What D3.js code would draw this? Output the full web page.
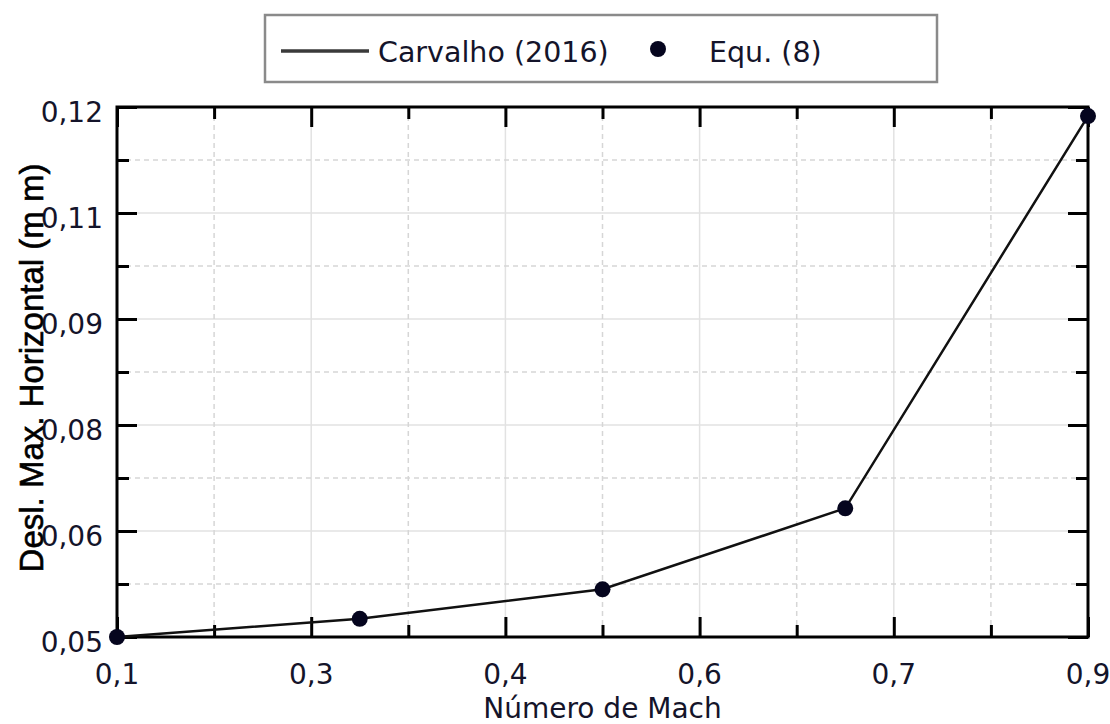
<!DOCTYPE html>
<html>
<head>
  <meta charset="UTF-8" />
  <script src="https://d3js.org/d3.v7.min.js"></script>
  <style>
    body { margin: 0; background: white; }
    text { font-family: "DejaVu Sans", sans-serif; fill: #14142a; }
  </style>
</head>
<body>
<div id="chart"></div>
<script>
  // data
  var mach = [0.1, 0.3, 0.5, 0.7, 0.9];
  var desl = [0.0500, 0.0524, 0.0563, 0.0670, 0.1188];
  var xTickLabels = ["0,1", "0,3", "0,4", "0,6", "0,7", "0,9"];
  var yTickLabels = ["0,05", "0,06", "0,08", "0,09", "0,11", "0,12"];
  var lineName = "Carvalho (2016)";
  var pointName = "Equ. (8)";

  const W = 1110, H = 724;
  const pLeft = 117, pRight = 1088, pTop = 107, pBottom = 637;

  const svg = d3.select("#chart")
    .append("svg")
    .attr("width", W)
    .attr("height", H)

  var xScale = d3.scaleLinear().domain([0.1, 0.9]).range([pLeft, pRight]);
  var yScale = d3.scaleLinear().domain([0.05, 0.12]).range([pBottom, pTop]);

  // ticks split each axis into 5 equal parts, labels rounded
  var xTicks = xTickLabels.map((d, i) => 0.1 + i * (0.8 / 5));
  var yTicks = yTickLabels.map((d, i) => 0.05 + i * (0.07 / 5));
  var xMinor = d3.range(5).map(i => (xTicks[i] + xTicks[i + 1]) / 2);
  var yMinor = d3.range(5).map(i => (yTicks[i] + yTicks[i + 1]) / 2);

  // grid
  var grid = svg.append("g");
  grid.selectAll(".gx").data(xTicks).enter().append("line")
    .attr("x1", d => xScale(d)).attr("x2", d => xScale(d))
    .attr("y1", pTop).attr("y2", pBottom)
    .attr("stroke", "#e2e2e2").attr("stroke-width", 1.5);
  grid.selectAll(".gy").data(yTicks).enter().append("line")
    .attr("x1", pLeft).attr("x2", pRight)
    .attr("y1", d => yScale(d)).attr("y2", d => yScale(d))
    .attr("stroke", "#e2e2e2").attr("stroke-width", 1.5);
  grid.selectAll(".mx").data(xMinor).enter().append("line")
    .attr("x1", d => xScale(d)).attr("x2", d => xScale(d))
    .attr("y1", pTop).attr("y2", pBottom)
    .attr("stroke", "#d6d6d6").attr("stroke-width", 1.5)
    .attr("stroke-dasharray", "5,4");
  grid.selectAll(".my").data(yMinor).enter().append("line")
    .attr("x1", pLeft).attr("x2", pRight)
    .attr("y1", d => yScale(d)).attr("y2", d => yScale(d))
    .attr("stroke", "#d6d6d6").attr("stroke-width", 1.5)
    .attr("stroke-dasharray", "5,4");

  // axes: inward ticks on all four sides
  function inAxis(axisFn, scale, vals, size, tr) {
    var g = svg.append("g")
      .attr("transform", tr)
      .call(axisFn(scale).tickValues(vals).tickSize(-size).tickFormat(""));
    g.select(".domain").remove();
    g.selectAll("line").attr("stroke", "#000").attr("stroke-width", 3);
    return g;
  }
  inAxis(d3.axisBottom, xScale, xTicks, 20, "translate(0," + pBottom + ")");
  inAxis(d3.axisBottom, xScale, xMinor, 12, "translate(0," + pBottom + ")");
  inAxis(d3.axisTop, xScale, xTicks, 20, "translate(0," + pTop + ")");
  inAxis(d3.axisTop, xScale, xMinor, 12, "translate(0," + pTop + ")");
  inAxis(d3.axisLeft, yScale, yTicks, 20, "translate(" + pLeft + ",0)");
  inAxis(d3.axisLeft, yScale, yMinor, 12, "translate(" + pLeft + ",0)");
  inAxis(d3.axisRight, yScale, yTicks, 20, "translate(" + pRight + ",0)");
  inAxis(d3.axisRight, yScale, yMinor, 12, "translate(" + pRight + ",0)");

  // frame
  svg.append("rect")
    .attr("x", pLeft).attr("y", pTop)
    .attr("width", pRight - pLeft).attr("height", pBottom - pTop)
    .attr("fill", "none").attr("stroke", "#000").attr("stroke-width", 3);

  // tick labels
  svg.selectAll(".xl").data(xTicks).enter().append("text")
    .attr("x", d => xScale(d)).attr("y", 684)
    .attr("text-anchor", "middle")
    .style("font-size", "28px")
    .text((d, i) => xTickLabels[i]);
  svg.selectAll(".yl").data(yTicks).enter().append("text")
    .attr("x", 103).attr("y", d => yScale(d) + 15)
    .attr("text-anchor", "end")
    .style("font-size", "28px")
    .text((d, i) => yTickLabels[i]);

  // y title (drawn over the tick labels, like the original)
  svg.append("text")
    .attr("transform", "translate(43,368) rotate(-90)")
    .attr("text-anchor", "middle")
    .style("font-family", "'Liberation Sans', Arial, sans-serif")
    .style("font-size", "33px")
    .style("fill", "#000")
    .style("stroke", "#000")
    .style("stroke-width", 0.6)
    .text("Desl. Max. Horizontal (m m)");

  svg.append("text")
    .attr("x", (pLeft + pRight) / 2).attr("y", 718)
    .attr("text-anchor", "middle")
    .style("font-size", "28px")
    .text("Número de Mach");

  // line + points
  var pts = mach.map((m, i) => ({ x: m, y: desl[i] }));
  svg.append("path")
    .datum(pts)
    .attr("fill", "none")
    .attr("stroke", "#111")
    .attr("stroke-width", 2.5)
    .attr("d", d3.line().x(d => xScale(d.x)).y(d => yScale(d.y)));
  svg.selectAll("circle.pt").data(pts).enter().append("circle")
    .attr("class", "pt")
    .attr("cx", d => xScale(d.x))
    .attr("cy", d => yScale(d.y))
    .attr("r", 8)
    .attr("fill", "#05051e");

  // legend
  var lg = svg.append("g");
  lg.append("rect")
    .attr("x", 265).attr("y", 15).attr("width", 672).attr("height", 67)
    .attr("fill", "white").attr("stroke", "#8a8a8a").attr("stroke-width", 2.5);
  lg.append("line")
    .attr("x1", 281).attr("x2", 369).attr("y1", 51).attr("y2", 51)
    .attr("stroke", "#3a3a3a").attr("stroke-width", 3.5);
  lg.append("text")
    .attr("x", 378).attr("y", 62)
    .style("font-size", "28.5px")
    .text(lineName);
  lg.append("circle")
    .attr("cx", 658).attr("cy", 49).attr("r", 8)
    .attr("fill", "#05051e");
  lg.append("text")
    .attr("x", 709).attr("y", 62)
    .style("font-size", "28.5px")
    .text(pointName);
</script>
</body>
</html>
